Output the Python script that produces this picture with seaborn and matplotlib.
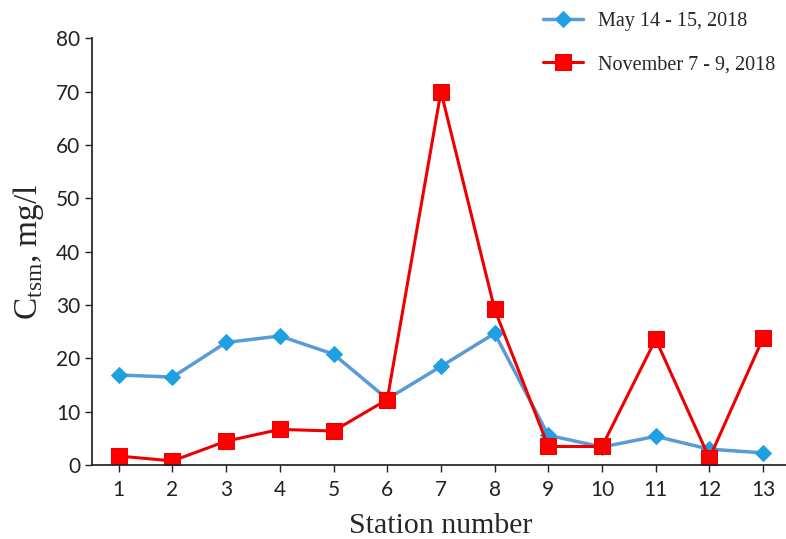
import numpy as np
import pandas as pd
import matplotlib
matplotlib.use("Agg")
import matplotlib.pyplot as plt
import seaborn as sns

stations = list(range(1, 14))
may_vals = [16.9, 16.5, 23.0, 24.2, 20.8, 12.4, 18.5, 24.7, 5.6, 3.4, 5.4, 3.0, 2.3]
nov_vals = [1.7, 0.8, 4.5, 6.7, 6.4, 12.3, 70.0, 29.2, 3.5, 3.5, 23.6, 1.3, 23.8]
series_names = ["May 14 - 15, 2018", "November 7 - 9, 2018"]

sns.set_theme(style="ticks")
plt.rcParams["mathtext.fontset"] = "custom"
plt.rcParams["mathtext.rm"] = "Liberation Serif"

df = pd.DataFrame({
    "station": stations * 2,
    "value": may_vals + nov_vals,
    "period": [series_names[0]] * 13 + [series_names[1]] * 13,
})

fig = plt.figure(figsize=(7.86, 5.39), dpi=100)
ax = fig.add_axes([0.117, 0.137, 0.888, 0.792])

sns.lineplot(data=df[df.period == series_names[0]], x="station", y="value",
             color="#5B9BD5", lw=2.5, marker="D", markersize=8,
             markerfacecolor="#1EA0E2", markeredgecolor="#1EA0E2",
             label=series_names[0], ax=ax)
sns.lineplot(data=df[df.period == series_names[1]], x="station", y="value",
             color="#EE0000", lw=2.2, marker="s", markersize=11,
             markerfacecolor="#FF0000", markeredgecolor="#EE0000",
             label=series_names[1], ax=ax)

ax.set_xlim(0.5, 13.5)
ax.set_ylim(0, 80)
ax.set_xticks(stations)
ax.set_yticks(range(0, 81, 10))
ax.tick_params(labelsize=15, length=5, width=1, colors="#222222")
ax.tick_params(axis="x", pad=6)
for lab in ax.get_xticklabels() + ax.get_yticklabels():
    lab.set_family("Lato")
ax.spines["top"].set_visible(False)
ax.spines["right"].set_visible(False)
ax.spines["left"].set_color("#222222")
ax.spines["bottom"].set_color("#222222")

ax.set_xlabel("Station number", fontsize=21.5, family="Liberation Serif", labelpad=9)
ax.set_ylabel(r"C$_{\mathrm{tsm}}$, mg/l", fontsize=24, family="Liberation Serif", labelpad=7)

ax.legend_.remove()
handles, labels = ax.get_legend_handles_labels()
fig.legend(handles, labels, loc="upper left", bbox_to_anchor=(0.691, 0.978),
           frameon=False, borderpad=0, borderaxespad=0,
           prop={"family": "Liberation Serif", "size": 14.5},
           handlelength=2.0, handletextpad=0.7, labelspacing=1.2)

fig.savefig("out.png", dpi=100)
